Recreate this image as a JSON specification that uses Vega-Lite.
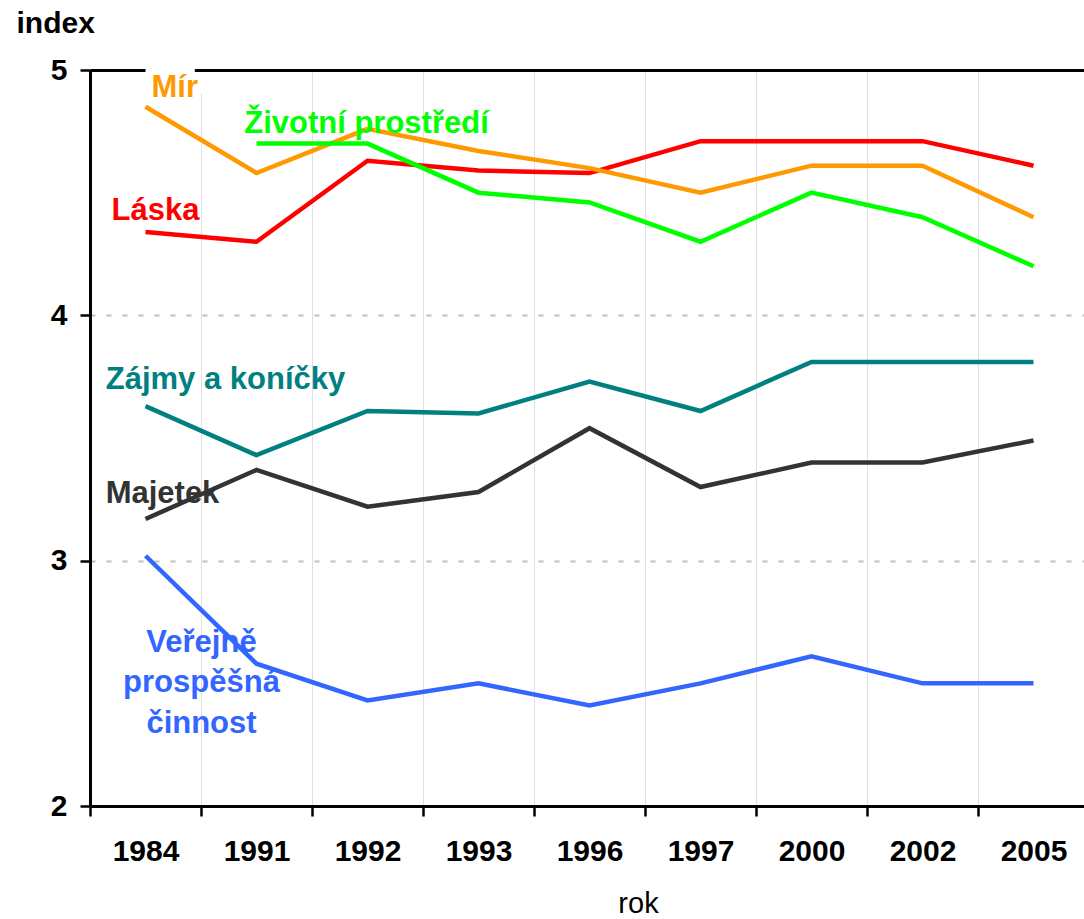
{
  "$schema": "https://vega.github.io/schema/vega-lite/v6.json",
  "width": 994,
  "height": 736,
  "autosize": {"type": "none"},
  "padding": {"left": 90, "top": 70, "right": 0, "bottom": 113},
  "background": "white",
  "config": {"view": {"stroke": null}, "font": "Liberation Sans"},
  "datasets": {
    "series": [
      {"serie": "Láska", "rok": "1984", "index": 4.34},
      {"serie": "Láska", "rok": "1991", "index": 4.30},
      {"serie": "Láska", "rok": "1992", "index": 4.63},
      {"serie": "Láska", "rok": "1993", "index": 4.59},
      {"serie": "Láska", "rok": "1996", "index": 4.58},
      {"serie": "Láska", "rok": "1997", "index": 4.71},
      {"serie": "Láska", "rok": "2000", "index": 4.71},
      {"serie": "Láska", "rok": "2002", "index": 4.71},
      {"serie": "Láska", "rok": "2005", "index": 4.61},
      {"serie": "Mír", "rok": "1984", "index": 4.85},
      {"serie": "Mír", "rok": "1991", "index": 4.58},
      {"serie": "Mír", "rok": "1992", "index": 4.76},
      {"serie": "Mír", "rok": "1993", "index": 4.67},
      {"serie": "Mír", "rok": "1996", "index": 4.60},
      {"serie": "Mír", "rok": "1997", "index": 4.50},
      {"serie": "Mír", "rok": "2000", "index": 4.61},
      {"serie": "Mír", "rok": "2002", "index": 4.61},
      {"serie": "Mír", "rok": "2005", "index": 4.40},
      {"serie": "Životní prostředí", "rok": "1991", "index": 4.70},
      {"serie": "Životní prostředí", "rok": "1992", "index": 4.70},
      {"serie": "Životní prostředí", "rok": "1993", "index": 4.50},
      {"serie": "Životní prostředí", "rok": "1996", "index": 4.46},
      {"serie": "Životní prostředí", "rok": "1997", "index": 4.30},
      {"serie": "Životní prostředí", "rok": "2000", "index": 4.50},
      {"serie": "Životní prostředí", "rok": "2002", "index": 4.40},
      {"serie": "Životní prostředí", "rok": "2005", "index": 4.20},
      {"serie": "Zájmy a koníčky", "rok": "1984", "index": 3.63},
      {"serie": "Zájmy a koníčky", "rok": "1991", "index": 3.43},
      {"serie": "Zájmy a koníčky", "rok": "1992", "index": 3.61},
      {"serie": "Zájmy a koníčky", "rok": "1993", "index": 3.60},
      {"serie": "Zájmy a koníčky", "rok": "1996", "index": 3.73},
      {"serie": "Zájmy a koníčky", "rok": "1997", "index": 3.61},
      {"serie": "Zájmy a koníčky", "rok": "2000", "index": 3.81},
      {"serie": "Zájmy a koníčky", "rok": "2002", "index": 3.81},
      {"serie": "Zájmy a koníčky", "rok": "2005", "index": 3.81},
      {"serie": "Majetek", "rok": "1984", "index": 3.17},
      {"serie": "Majetek", "rok": "1991", "index": 3.37},
      {"serie": "Majetek", "rok": "1992", "index": 3.22},
      {"serie": "Majetek", "rok": "1993", "index": 3.28},
      {"serie": "Majetek", "rok": "1996", "index": 3.54},
      {"serie": "Majetek", "rok": "1997", "index": 3.30},
      {"serie": "Majetek", "rok": "2000", "index": 3.40},
      {"serie": "Majetek", "rok": "2002", "index": 3.40},
      {"serie": "Majetek", "rok": "2005", "index": 3.49},
      {"serie": "Veřejně prospěšná činnost", "rok": "1984", "index": 3.02},
      {"serie": "Veřejně prospěšná činnost", "rok": "1991", "index": 2.58},
      {"serie": "Veřejně prospěšná činnost", "rok": "1992", "index": 2.43},
      {"serie": "Veřejně prospěšná činnost", "rok": "1993", "index": 2.50},
      {"serie": "Veřejně prospěšná činnost", "rok": "1996", "index": 2.41},
      {"serie": "Veřejně prospěšná činnost", "rok": "1997", "index": 2.50},
      {"serie": "Veřejně prospěšná činnost", "rok": "2000", "index": 2.61},
      {"serie": "Veřejně prospěšná činnost", "rok": "2002", "index": 2.50},
      {"serie": "Veřejně prospěšná činnost", "rok": "2005", "index": 2.50}
    ],
    "labels": [
      {"label": "Mír", "rok": "1984", "index": 4.89, "serie": "Mír"},
      {"label": "Životní prostředí", "rok": "1992", "index": 4.742, "serie": "Životní prostředí"},
      {"label": "Láska", "rok": "1984", "index": 4.389, "serie": "Láska"},
      {"label": "Zájmy a koníčky", "rok": "1984", "index": 3.698, "serie": "Zájmy a koníčky"},
      {"label": "Majetek", "rok": "1984", "index": 3.234, "serie": "Majetek"},
      {"label": ["Veřejně", "prospěšná", "činnost"], "rok": "1984", "index": 2.629, "serie": "Veřejně prospěšná činnost"}
    ]
  },
  "encoding": {
    "x": {
      "field": "rok",
      "type": "ordinal",
      "bandPosition": 0.5,
      "scale": {
        "type": "band",
        "domain": ["1984", "1991", "1992", "1993", "1996", "1997", "2000", "2002", "2005"],
        "paddingInner": 0,
        "paddingOuter": 0,
        "range": [0, 999]
      },
      "axis": {
        "title": "rok",
        "titleFont": "Liberation Sans",
        "titleFontSize": 29,
        "titleFontWeight": "normal",
        "titleColor": "black",
        "titleX": 548,
        "titleY": 106,
        "titleAlign": "center",
        "titleBaseline": "alphabetic",
        "labelAngle": 0,
        "labelFont": "Liberation Sans",
        "labelFontSize": 30,
        "labelFontWeight": "bold",
        "labelColor": "black",
        "labelBaseline": "alphabetic",
        "labelPadding": 44,
        "tickBand": "extent",
        "tickSize": 10,
        "tickWidth": 2.5,
        "tickColor": "black",
        "domainColor": "black",
        "domainWidth": 3,
        "grid": true,
        "gridColor": "#e0e0e0",
        "gridWidth": 1
      }
    },
    "y": {
      "field": "index",
      "type": "quantitative",
      "scale": {"domain": [2, 5], "zero": false, "nice": false},
      "axis": {
        "title": "index",
        "titleFont": "Liberation Sans",
        "titleFontSize": 30,
        "titleFontWeight": "bold",
        "titleColor": "black",
        "titleAngle": 0,
        "titleAlign": "left",
        "titleBaseline": "alphabetic",
        "titleX": -74,
        "titleY": -38,
        "values": [2, 3, 4, 5],
        "format": "d",
        "labelFont": "Liberation Sans",
        "labelFontSize": 30,
        "labelFontWeight": "bold",
        "labelColor": "black",
        "labelPadding": 13,
        "tickSize": 10,
        "tickWidth": 2.5,
        "tickColor": "black",
        "domainColor": "black",
        "domainWidth": 3,
        "grid": true,
        "gridColor": {"condition": {"test": "datum.value === 5", "value": "black"}, "value": "#bfbfbf"},
        "gridDash": {"condition": {"test": "datum.value === 5", "value": []}, "value": [5, 11]},
        "gridWidth": {"condition": {"test": "datum.value === 5", "value": 3}, "value": 2}
      }
    },
    "color": {
      "field": "serie",
      "type": "nominal",
      "legend": null,
      "scale": {
        "domain": ["Láska", "Mír", "Životní prostředí", "Zájmy a koníčky", "Majetek", "Veřejně prospěšná činnost"],
        "range": ["#ff0000", "#ff9900", "#00ff00", "#008080", "#333333", "#3366ff"]
      }
    }
  },
  "layer": [
    {
      "data": {"name": "series"},
      "mark": {"type": "line", "strokeWidth": 4.5, "strokeJoin": "miter"}
    },
    {
      "data": {"name": "labels"},
      "transform": [{"filter": "datum.serie === 'Mír'"}],
      "mark": {"type": "text", "align": "left", "dx": 6, "baseline": "alphabetic", "fontSize": 31, "fontWeight": "bold", "stroke": "white", "strokeWidth": 16, "strokeJoin": "miter"},
      "encoding": {"text": {"field": "label"}, "color": {"value": "white"}}
    },
    {
      "data": {"name": "labels"},
      "transform": [{"filter": "datum.serie === 'Mír'"}],
      "mark": {"type": "text", "align": "left", "dx": 6, "baseline": "alphabetic", "fontSize": 31, "fontWeight": "bold"},
      "encoding": {"text": {"field": "label"}}
    },
    {
      "data": {"name": "labels"},
      "transform": [{"filter": "datum.serie === 'Životní prostředí'"}],
      "mark": {"type": "text", "align": "center", "dx": -1, "baseline": "alphabetic", "fontSize": 31, "fontWeight": "bold"},
      "encoding": {"text": {"field": "label"}}
    },
    {
      "data": {"name": "labels"},
      "transform": [{"filter": "datum.serie === 'Láska'"}],
      "mark": {"type": "text", "align": "center", "dx": 10, "baseline": "alphabetic", "fontSize": 31, "fontWeight": "bold"},
      "encoding": {"text": {"field": "label"}}
    },
    {
      "data": {"name": "labels"},
      "transform": [{"filter": "datum.serie === 'Zájmy a koníčky'"}],
      "mark": {"type": "text", "align": "center", "dx": 80, "baseline": "alphabetic", "fontSize": 31, "fontWeight": "bold"},
      "encoding": {"text": {"field": "label"}}
    },
    {
      "data": {"name": "labels"},
      "transform": [{"filter": "datum.serie === 'Majetek'"}],
      "mark": {"type": "text", "align": "center", "dx": 17, "baseline": "alphabetic", "fontSize": 31, "fontWeight": "bold"},
      "encoding": {"text": {"field": "label"}}
    },
    {
      "data": {"name": "labels"},
      "transform": [{"filter": "datum.serie === 'Veřejně prospěšná činnost'"}],
      "mark": {"type": "text", "align": "center", "dx": 56, "baseline": "alphabetic", "fontSize": 31, "fontWeight": "bold", "lineHeight": 40.5},
      "encoding": {"text": {"field": "label"}}
    }
  ]
}
